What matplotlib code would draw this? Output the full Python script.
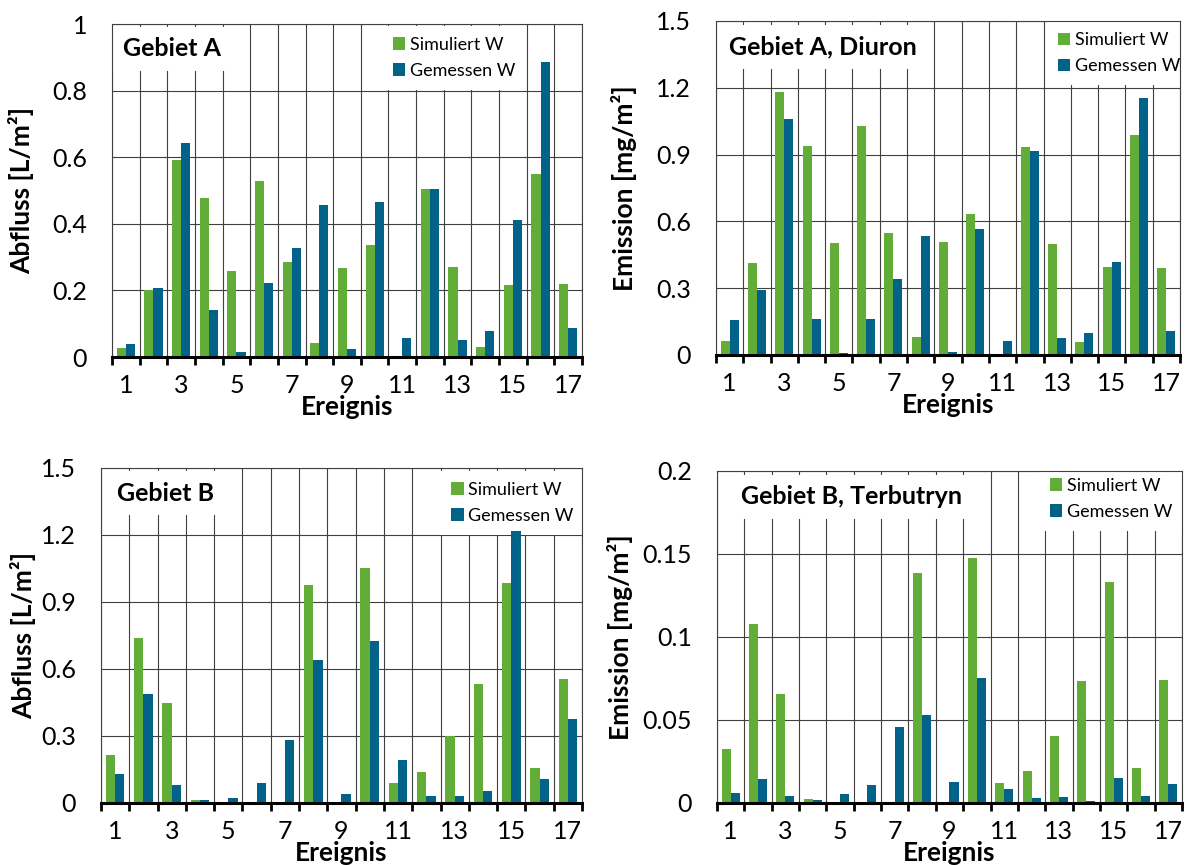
import matplotlib.pyplot as plt
import numpy as np

plt.rcParams['font.family'] = ['Lato', 'DejaVu Sans']

ereignis = np.arange(1, 18)

# Gebiet A, Abfluss [L/m2]
abfluss_a_sim = [0.028, 0.200, 0.593, 0.478, 0.259, 0.529, 0.285, 0.042, 0.268,
                 0.336, 0.0, 0.504, 0.271, 0.031, 0.215, 0.549, 0.220]
abfluss_a_gem = [0.040, 0.206, 0.644, 0.140, 0.014, 0.223, 0.328, 0.455, 0.025,
                 0.466, 0.056, 0.506, 0.051, 0.077, 0.411, 0.886, 0.088]

# Gebiet A, Diuron [mg/m2]
diuron_sim = [0.064, 0.412, 1.182, 0.938, 0.503, 1.028, 0.547, 0.082, 0.508,
              0.632, 0.0, 0.934, 0.499, 0.060, 0.396, 0.989, 0.391]
diuron_gem = [0.159, 0.292, 1.058, 0.163, 0.009, 0.163, 0.340, 0.533, 0.013,
              0.568, 0.064, 0.916, 0.076, 0.099, 0.417, 1.152, 0.108]

# Gebiet B, Abfluss [L/m2]
abfluss_b_sim = [0.217, 0.737, 0.449, 0.015, 0.0, 0.0, 0.0, 0.974, 0.0,
                 1.051, 0.090, 0.139, 0.301, 0.535, 0.987, 0.157, 0.556]
abfluss_b_gem = [0.132, 0.488, 0.079, 0.012, 0.024, 0.090, 0.281, 0.639, 0.042,
                 0.724, 0.191, 0.033, 0.033, 0.055, 1.219, 0.109, 0.375]

# Gebiet B, Terbutryn [mg/m2]
terbutryn_sim = [0.0324, 0.108, 0.0658, 0.0022, 0.0, 0.0, 0.0, 0.1386, 0.0,
                 0.1474, 0.012, 0.0194, 0.0406, 0.0732, 0.1334, 0.021, 0.0738]
terbutryn_gem = [0.0062, 0.0142, 0.0044, 0.0016, 0.0056, 0.0106, 0.0458, 0.0532, 0.0124,
                 0.075, 0.0084, 0.0028, 0.0034, 0.001, 0.0148, 0.004, 0.0112]

ticks_a = [0, 0.2, 0.4, 0.6, 0.8, 1.0]
labels_a = ['0', '0.2', '0.4', '0.6', '0.8', '1']
ticks_15 = [0, 0.3, 0.6, 0.9, 1.2, 1.5]
labels_15 = ['0', '0.3', '0.6', '0.9', '1.2', '1.5']
ticks_t = [0, 0.05, 0.1, 0.15, 0.2]
labels_t = ['0', '0.05', '0.1', '0.15', '0.2']

GREEN = '#62ad37'
BLUE = '#03628a'


def draw_panel(ax, sim, gem, yticks, ylabels, ylabel, title,
               title_xy, legend_xy, ylabel_x, xlabel_y):
    """one bar panel"""
    w = 0.33
    ax.bar(ereignis - w / 2, sim, w, color=GREEN, label='Simuliert W', zorder=2)
    ax.bar(ereignis + w / 2, gem, w, color=BLUE, label='Gemessen W', zorder=2)

    ax.set_xlim(0.5, 17.5)
    ax.set_ylim(yticks[0], yticks[-1])
    ax.set_yticks(yticks, ylabels)
    ax.set_xticks(np.arange(0.5, 18), [])
    ax.set_xticks(ereignis[::2], [str(e) for e in ereignis[::2]], minor=True)
    ax.tick_params(axis='x', which='major', direction='out', length=6,
                   width=2, color='black')
    ax.tick_params(axis='x', which='minor', length=0, pad=12, labelsize=18)
    ax.tick_params(axis='y', length=0, pad=18, labelsize=18)
    ax.grid(True, which='major', color='#404040', linewidth=0.8)
    ax.set_axisbelow(True)

    for name, spine in ax.spines.items():
        spine.set_color('#404040')
        spine.set_linewidth(0.8)
        spine.set_zorder(6)
    ax.spines['bottom'].set_color('black')
    ax.spines['bottom'].set_linewidth(2.2)

    ax.set_ylabel(ylabel, fontsize=19, fontweight='bold')
    ax.yaxis.set_label_coords(ylabel_x, 0.5)
    ax.set_xlabel('Ereignis', fontsize=19, fontweight='bold')
    ax.xaxis.set_label_coords(0.5, xlabel_y)

    ax.text(title_xy[0], title_xy[1], title, transform=ax.transAxes,
            fontsize=18, fontweight='bold', ha='left', va='center', zorder=1.5,
            bbox=dict(boxstyle='square,pad=0.42', fc='white', ec='none'))

    leg = ax.legend(loc='upper left', bbox_to_anchor=legend_xy, fontsize=13,
                    frameon=True, fancybox=False, edgecolor='none',
                    facecolor='white', framealpha=1, handlelength=0.7,
                    handleheight=0.7, handletextpad=0.25, labelspacing=0.55,
                    borderpad=0.6, borderaxespad=0)
    leg.set_zorder(1.5)


fig = plt.figure(figsize=(11.87, 8.65), dpi=100)

ax1 = fig.add_axes([0.09436, 0.58728, 0.39596, 0.38497])
ax2 = fig.add_axes([0.60320, 0.58960, 0.39090, 0.38613])
ax3 = fig.add_axes([0.08509, 0.07168, 0.40522, 0.38728])
ax4 = fig.add_axes([0.60404, 0.07168, 0.39174, 0.38382])

draw_panel(ax1, abfluss_a_sim, abfluss_a_gem, ticks_a, labels_a,
           'Abfluss [L/m²]', 'Gebiet A',
           (0.0234, 0.925), (0.574, 0.994), -0.165, -0.114)
draw_panel(ax2, diuron_sim, diuron_gem, ticks_15, labels_15,
           'Emission [mg/m²]', 'Gebiet A, Diuron',
           (0.028, 0.922), (0.713, 0.998), -0.170, -0.114)
draw_panel(ax3, abfluss_b_sim, abfluss_b_gem, ticks_15, labels_15,
           'Abfluss [L/m²]', 'Gebiet B',
           (0.033, 0.925), (0.705, 0.991), -0.135, -0.114)
draw_panel(ax4, terbutryn_sim, terbutryn_gem, ticks_t, labels_t,
           'Emission [mg/m²]', 'Gebiet B, Terbutryn',
           (0.052, 0.922), (0.692, 1.012), -0.180, -0.114)

fig.savefig('out.png', dpi=100)
